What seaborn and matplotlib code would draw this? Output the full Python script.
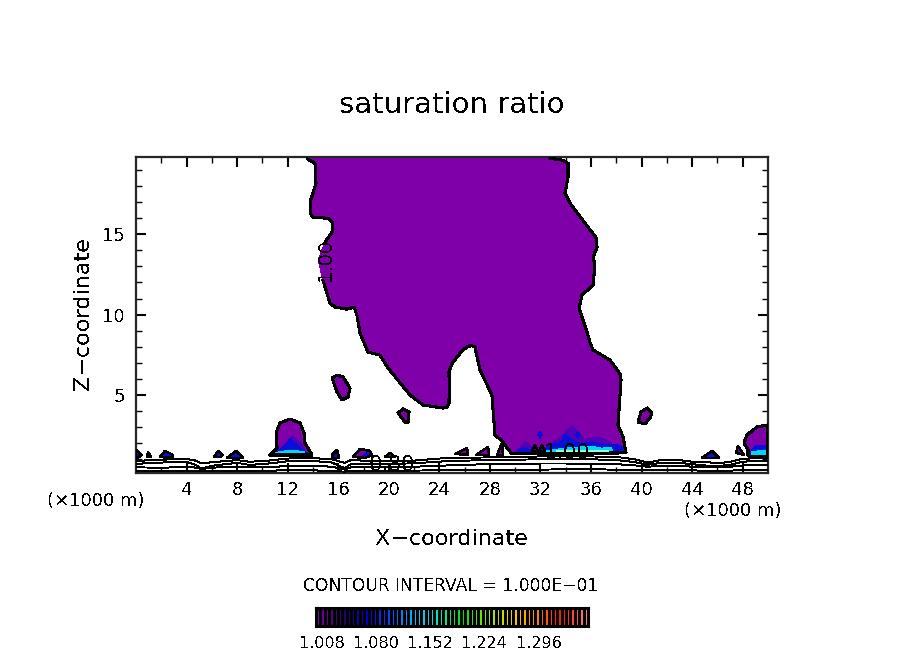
import numpy as np
import pandas as pd
import matplotlib
matplotlib.use('Agg')
import matplotlib.pyplot as plt
from matplotlib.colors import LinearSegmentedColormap
import seaborn as sns

# contour outlines: x in km, z in km
plume_x = [13.53, 14.16, 14.24, 13.77, 13.77, 14.00, 15.19, 15.51, 15.51, 14.95, 14.40, 14.79, 15.35, 15.74,
           16.69, 17.25, 17.48, 17.72, 18.35, 19.30, 19.94, 21.68, 22.71, 24.29, 24.60, 24.76, 24.78, 24.76,
           25.00, 25.40, 25.80, 26.27, 26.60, 26.82, 27.00, 27.22, 28.16, 28.40, 29.03, 29.35, 29.75,
           38.77, 38.53, 38.13, 38.37, 38.30, 37.90, 37.50, 36.16, 35.90,
           35.68, 35.05, 35.28, 36.16, 36.31, 36.16, 36.47, 36.39, 35.76, 34.34, 33.94, 34.18, 34.18, 33.78, 32.75]
plume_z = [19.69, 19.41, 18.17, 16.99, 16.30, 16.06, 15.99, 15.75, 15.12, 14.50, 13.39, 12.14, 10.71, 10.47,
           10.34, 10.47, 9.97, 8.85, 7.67, 7.48, 6.68, 5.00, 4.38, 4.19, 4.22, 4.50, 5.50, 6.43,
           6.95, 7.36, 7.75, 8.04, 8.06, 7.98, 7.30, 6.55, 5.00, 2.52, 2.08, 1.71, 1.34,
           1.40, 2.39, 3.14, 5.93, 6.30, 6.74, 7.17, 7.80, 8.30,
           8.91, 10.40, 11.21, 11.83, 13.07, 13.57, 14.19, 14.81, 15.43, 16.93, 17.55, 18.54, 19.41, 19.60, 19.72]

large_blobs = {
    'hump12': ([10.60, 11.16, 11.08, 11.39, 12.18, 12.97, 13.29, 13.37, 13.92],
               [1.27, 1.71, 2.64, 3.26, 3.51, 3.26, 2.64, 2.02, 1.27]),
    'hump49': ([50.0, 49.13, 48.34, 48.10, 48.42, 48.42, 50.0],
               [3.14, 3.01, 2.52, 2.02, 1.58, 1.21, 1.15]),
    'b16': ([15.51, 15.90, 16.38, 16.93, 16.77, 16.30, 15.90], [6.06, 6.24, 6.12, 5.43, 4.88, 4.69, 5.19]),
    'b21': ([20.73, 21.12, 21.60, 21.52, 21.28], [3.88, 4.13, 3.94, 3.32, 3.32]),
    'b40': ([39.72, 39.95, 40.43, 40.82, 40.66, 40.27], [3.32, 3.94, 4.19, 3.88, 3.57, 3.20]),
}
small_blobs = {
    'a': ([0.0, 0.47, 0.0], [1.58, 1.27, 1.03]),
    'b': ([0.87, 0.95, 1.19], [1.15, 1.46, 1.15]),
    'c': ([1.90, 2.29, 2.93, 2.85], [1.15, 1.52, 1.27, 1.09]),
    'd': ([6.17, 6.49, 6.88, 6.65], [1.15, 1.52, 1.27, 1.15]),
    'e': ([7.20, 7.91, 8.47], [1.09, 1.52, 1.09]),
    'f': ([15.51, 15.90, 16.06, 15.59], [1.27, 1.58, 1.09, 1.09]),
    'g': ([17.17, 17.72, 18.51, 18.67, 18.12], [1.15, 1.65, 1.52, 1.27, 1.09]),
    'h': ([19.70, 20.09, 20.49], [1.15, 1.40, 1.15]),
    'i': ([25.24, 26.19, 26.27], [1.34, 1.71, 1.27]),
    'j': ([26.90, 27.85, 27.93], [1.27, 1.77, 1.27]),
    'k': ([28.56, 28.96, 29.03], [1.27, 2.02, 1.27]),
    'l': ([44.78, 45.57, 46.12], [1.09, 1.52, 1.09]),
    'm': ([47.47, 47.63, 48.10], [1.40, 1.83, 1.27]),
    'n': ([31.33, 31.57, 31.80], [1.52, 1.89, 1.52]),
    'o': ([31.88, 32.12, 32.36], [1.52, 1.89, 1.52]),
}

# higher saturation patches near the surface
indigo_patches = [
    ([11.4, 12.4, 13.2, 13.4, 11.2], [1.5, 2.45, 1.9, 1.4, 1.4]),
    ([32.0, 33.6, 34.5, 35.4, 36.8, 38.6, 32.0], [1.5, 2.4, 3.1, 2.3, 2.35, 1.5, 1.5]),
    ([29.9, 30.8, 32.0, 29.9], [1.35, 2.1, 1.35, 1.35]),
]
blue_patches = [
    ([29.8, 30.6, 31.4, 32.2, 33.0, 33.6, 34.0, 34.6, 35.2, 36.0, 37.0, 38.0, 38.7, 38.7, 29.8],
     [1.36, 1.72, 1.5, 1.6, 1.95, 2.05, 2.55, 2.15, 2.0, 2.05, 1.95, 1.95, 1.7, 1.35, 1.36]),
    ([10.9, 11.6, 12.2, 12.8, 13.6, 10.9], [1.35, 1.75, 2.3, 1.85, 1.35, 1.35]),
    ([48.5, 49.0, 50.0, 50.0, 48.5], [1.35, 1.85, 1.85, 1.25, 1.25]),
    ([0.0, 0.35, 0.0], [1.5, 1.27, 1.1]),
    ([2.1, 2.5, 2.8, 2.1], [1.2, 1.4, 1.2, 1.2]),
    ([7.5, 7.9, 8.3, 7.5], [1.15, 1.4, 1.15, 1.15]),
    ([6.3, 6.5, 6.7, 6.3], [1.2, 1.4, 1.2, 1.2]),
    ([15.6, 15.9, 16.0, 15.6], [1.15, 1.4, 1.15, 1.15]),
    ([17.9, 18.2, 18.5, 18.2], [1.2, 1.45, 1.3, 1.12]),
    ([45.0, 45.6, 46.0, 45.0], [1.15, 1.4, 1.15, 1.15]),
    ([31.76, 31.96, 32.16, 31.96], [2.52, 2.72, 2.52, 2.32]),
    ([33.74, 33.94, 34.14, 33.94], [2.33, 2.53, 2.33, 2.13]),
    ([34.77, 34.97, 35.17, 34.97], [2.52, 2.72, 2.52, 2.32]),
]
cyan_patches = [
    ([32.1, 33.0, 34.2, 35.2, 36.0, 36.8, 37.6, 37.8, 32.1], [1.45, 1.6, 1.72, 1.78, 1.82, 1.7, 1.72, 1.35, 1.35]),
    ([11.0, 12.0, 13.3, 13.4, 11.1], [1.42, 1.55, 1.5, 1.24, 1.24]),
    ([48.7, 50.0, 50.0, 48.7], [1.5, 1.55, 1.2, 1.2]),
]
pale_patches = [
    ([33.2, 37.4, 37.4, 33.2], [1.58, 1.58, 1.42, 1.42]),
    ([11.4, 13.1, 13.1, 11.4], [1.36, 1.36, 1.28, 1.28]),
]

# ground level contours
ground_x = [0, 2, 4, 4.6, 5.2, 6, 8, 9, 10.5, 12, 14, 15.5, 16.5, 17, 18, 20, 22, 24, 26, 28, 30, 32, 34,
            36, 38, 39.5, 40.5, 41.5, 43, 44, 45, 46, 47, 47.8, 48.5, 50]
ground_1 = [.90, .98, 1.02, .95, .75, .82, .95, .85, .92, 1.05, 1.08, 1.0, .78, .95, .92, .90, .92, 1.05, 1.10,
            1.12, 1.15, 1.18, 1.2, 1.18, 1.15, 1.0, .80, .95, .95, .85, .85, .75, .85, 1.0, 1.05, 1.10]
ground_2 = [.72, .80, .84, .70, .42, .60, .78, .65, .74, .88, .90, .80, .45, .70, .74, .72, .75, .86, .92,
            .95, .98, 1.0, 1.02, 1.0, .96, .82, .66, .78, .78, .70, .62, .58, .66, .82, .88, .92]
ground_3 = [.50, .48, .52, .50, .40, .48, .55, .50, .52, .58, .60, .54, .36, .50, .52, .50, .54, .60, .66,
            .70, .72, .74, .74, .72, .70, .62, .54, .60, .60, .54, .50, .50, .54, .60, .64, .66]
ground_4 = [.26, .26, .28, .26, .26, .28, .30, .26, .28, .34, .32, .26, .24, .26, .28, .26, .30, .32, .36,
            .34, .32, .36, .38, .38, .36, .34, .32, .32, .34, .32, .28, .28, .30, .32, .34, .34]

x_ticks = [4, 8, 12, 16, 20, 24, 28, 32, 36, 40, 44, 48]
z_ticks = [5, 10, 15]
bar_labels = ['1.008', '1.080', '1.152', '1.224', '1.296']
bar_colors = ['#7f00a8', '#2a0060', '#0000c8', '#0050ff', '#00c0ff', '#00e8c0', '#00e000', '#a0e000',
              '#f0d000', '#ff8000', '#ff1000', '#ff8080']
n_bar_levels = 62

sns.set_theme(style='ticks')
plt.rcParams.update({
    'font.family': 'DejaVu Sans',
    'text.antialiased': False,
    'text.color': 'black',
    'axes.labelcolor': 'black',
    'xtick.color': 'black',
    'ytick.color': 'black',
})

purple = '#7f00a8'
fig = plt.figure(figsize=(9.04, 6.54), dpi=100)
ax = fig.add_axes([136 / 904, 1 - 473 / 654, 632 / 904, 316 / 654])

# filled regions
ax.fill(plume_x + [32.75, 13.53], plume_z + [19.8, 19.8], color=purple, lw=0, antialiased=False, zorder=1)
for bx, bz in list(large_blobs.values()) + list(small_blobs.values()):
    ax.fill(bx, bz, color=purple, lw=0, antialiased=False, zorder=1)
for patches, col, zo in [(indigo_patches, '#5000b8', 2), (blue_patches, '#0810d8', 3),
                         (cyan_patches, '#00d8f0', 4), (pale_patches, '#a0ffd0', 5)]:
    for bx, bz in patches:
        ax.fill(bx, bz, color=col, lw=0, antialiased=False, zorder=zo)

# contour lines, split where the labels interrupt them
def line_table(lines):
    rows = []
    for name, (xs, zs) in lines.items():
        rows.extend({'seg': name, 'x': a, 'z': b} for a, b in zip(xs, zs))
    return pd.DataFrame(rows)

big = {'plume_top': (plume_x[:10], plume_z[:10]), 'plume_rest': (plume_x[11:], plume_z[11:])}
for name, (bx, bz) in large_blobs.items():
    big[name] = (bx + bx[:1], bz + bz[:1])
small = {name: (bx + bx[:1], bz + bz[:1]) for name, (bx, bz) in small_blobs.items()}

sns.lineplot(data=line_table(big), x='x', y='z', units='seg', estimator=None, sort=False, color='black',
             linewidth=1.5, legend=False, ax=ax, zorder=6, antialiased=False)
sns.lineplot(data=line_table(small), x='x', y='z', units='seg', estimator=None, sort=False, color='black',
             linewidth=1.1, legend=False, ax=ax, zorder=6, antialiased=False)

ground = pd.DataFrame({'x': ground_x * 4,
                       'z': ground_1 + ground_2 + ground_3 + ground_4,
                       'seg': np.repeat(['g1', 'g2', 'g3', 'g4'], len(ground_x))})
sns.lineplot(data=ground, x='x', y='z', units='seg', estimator=None, sort=False, color='black',
             linewidth=0.7, legend=False, ax=ax, zorder=6, antialiased=False)

# contour labels
ax.text(20.2, 0.65, '0.80', ha='center', va='center', fontsize=15, zorder=7)
ax.text(34.06, 1.4, '1.00', ha='center', va='center', fontsize=15, zorder=7)
ax.text(14.95, 13.4, '1.00', ha='center', va='center', fontsize=14, rotation=90, zorder=7)

ax.set_xlim(0, 50)
ax.set_ylim(0.15, 19.8)
ax.set_xticks(x_ticks)
ax.set_xticks(range(2, 50, 4), minor=True)
ax.set_yticks(z_ticks)
ax.set_yticks([z for z in range(1, 20) if z not in z_ticks], minor=True)
ax.tick_params(which='major', direction='in', length=7, width=1.5, top=True, right=True, labelsize=13)
ax.tick_params(which='minor', direction='in', length=4, width=1, top=True, right=True)
ax.tick_params(axis='x', which='major', pad=6)
ax.tick_params(axis='y', which='major', pad=8)
for sp in ax.spines.values():
    sp.set_linewidth(1.6)
    sp.set_visible(True)
ax.set_xlabel('')
ax.set_ylabel('')

# titles and axis captions, placed in figure pixels
def label(px, py, s, size, **kw):
    fig.text(px / 904, 1 - py / 654, s, fontsize=size, ha='center', va='center', **kw)

label(452, 105, 'saturation ratio', 21)
label(452, 539, 'X\u2212coordinate', 16)
label(83, 314, 'Z\u2212coordinate', 16, rotation=90)
label(96, 501, '(\u00d71000 m)', 13)
label(733, 511, '(\u00d71000 m)', 13)
label(451, 586, 'CONTOUR INTERVAL = 1.000E\u221201', 12.3)

# colour bar
cax = fig.add_axes([316 / 904, 1 - 626 / 654, 272 / 904, 18 / 654])
levels = np.arange(n_bar_levels).reshape(1, -1)
cmap = LinearSegmentedColormap.from_list('ncar', bar_colors, N=n_bar_levels)
sns.heatmap(levels, cmap=cmap, cbar=False, linewidths=1.0, linecolor='black',
            xticklabels=False, yticklabels=False, ax=cax)
for sp in cax.spines.values():
    sp.set_visible(True)
    sp.set_linewidth(2.2)
    sp.set_color('black')

for i, s in enumerate(bar_labels):
    label(322 + i * 54.2, 643, s, 11.5)

fig.savefig('out.png', dpi=100)
